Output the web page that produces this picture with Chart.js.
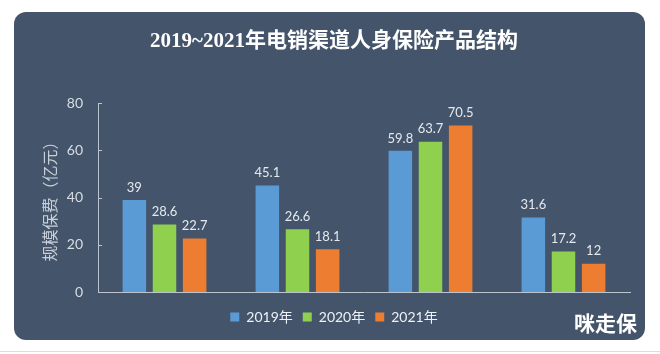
<!DOCTYPE html>
<html>
<head>
<meta charset="utf-8">
<script src="https://cdn.jsdelivr.net/npm/chart.js@4.4.1/dist/chart.umd.min.js"></script>
<style>
  html, body { margin: 0; padding: 0; background: #ffffff; width: 660px; height: 354px; overflow: hidden; }
  #frame { position: absolute; left: 14px; top: 12px; width: 631px; height: 328px; background: #44546a; border-radius: 12px; }
  #wm { position: absolute; left: 574px; top: 307px; font-family: 'Noto Sans CJK SC', sans-serif; font-weight: 700; font-size: 21px; color: #ffffff; }
  #rule { position: absolute; left: 0; top: 351px; width: 660px; height: 1px; background: #dcdcdc; }
</style>
</head>
<body>
<div id="frame"><canvas id="c"></canvas></div>
<div id="wm">咪走保</div>
<div id="rule"></div>
<script>
const categories = ['寿险', '意外险', '健康险', '年金险'];
const seriesNames = ['2019年', '2020年', '2021年'];
const values2019 = [39, 45.1, 59.8, 31.6];
const values2020 = [28.6, 26.6, 63.7, 17.2];
const values2021 = [22.7, 18.1, 70.5, 12];
const yTicks = [0, 20, 40, 60, 80];
const titleText = '2019~2021年电销渠道人身保险产品结构';
const yTitle = '规模保费（亿元）';

const colors = ['#5b9bd5', '#8fd14f', '#ed7d31'];
const axisColor = '#bcc4ce';

const valueLabels = {
  id: 'valueLabels',
  afterDatasetsDraw(chart) {
    const ctx = chart.ctx;
    ctx.save();
    ctx.font = '13px Lato, "Liberation Sans", sans-serif';
    ctx.fillStyle = '#e4e9ef';
    ctx.textAlign = 'center';
    ctx.textBaseline = 'bottom';
    chart.data.datasets.forEach((ds, di) => {
      const meta = chart.getDatasetMeta(di);
      meta.data.forEach((el, i) => {
        ctx.fillText(String(ds.data[i]), el.x, el.y - 6);
      });
    });
    ctx.restore();
  }
};

const innerTicks = {
  id: 'innerTicks',
  afterDraw(chart) {
    const y = chart.scales.y;
    const ctx = chart.ctx;
    ctx.save();
    ctx.strokeStyle = axisColor;
    ctx.lineWidth = 1;
    yTicks.forEach(v => {
      if (v === 0) return;
      const py = Math.round(y.getPixelForValue(v)) + 0.5;
      ctx.beginPath();
      ctx.moveTo(chart.chartArea.left, py);
      ctx.lineTo(chart.chartArea.left + 4, py);
      ctx.stroke();
    });
    ctx.restore();
  }
};

new Chart(document.getElementById('c'), {
  type: 'bar',
  data: {
    labels: categories,
    datasets: [
      { label: seriesNames[0], data: values2019, backgroundColor: colors[0] },
      { label: seriesNames[1], data: values2020, backgroundColor: colors[1] },
      { label: seriesNames[2], data: values2021, backgroundColor: colors[2] }
    ]
  },
  options: {
    responsive: true,
    maintainAspectRatio: false,
    animation: false,
    layout: { padding: { left: 24, right: 15, top: 0, bottom: 6 } },
    datasets: { bar: { categoryPercentage: 0.68, barPercentage: 0.78 } },
    plugins: {
      title: {
        display: true,
        text: titleText,
        color: '#ffffff',
        font: { family: '"Liberation Serif", "Noto Sans CJK SC", serif', size: 21, weight: 'bold' },
        padding: { top: 17, bottom: 49 }
      },
      legend: {
        display: true,
        position: 'bottom',
        labels: {
          boxWidth: 9,
          boxHeight: 9,
          padding: 10,
          color: '#eef1f5',
          font: { family: 'Lato, "Noto Sans CJK SC", sans-serif', size: 14 }
        }
      },
      tooltip: { enabled: false }
    },
    scales: {
      x: {
        grid: { display: false, drawTicks: false },
        border: { display: true, color: axisColor, width: 1 },
        ticks: {
          color: 'rgba(255,255,255,0.09)',
          font: { family: '"Noto Sans CJK SC", sans-serif', size: 12 },
          padding: 14
        },
        afterFit(scale) { scale.height = 8; }
      },
      y: {
        min: 0,
        max: 80,
        grid: { display: false, drawTicks: false },
        border: { display: true, color: axisColor, width: 1 },
        ticks: {
          stepSize: 20,
          color: '#d9dee5',
          padding: 15,
          font: { family: 'Lato, "Liberation Sans", sans-serif', size: 14 }
        },
        title: {
          display: true,
          text: yTitle,
          color: '#c9d0d9',
          font: { family: '"Noto Sans CJK SC", sans-serif', size: 16 },
          padding: { top: 2, bottom: 0 }
        },
        afterFit(scale) { scale.width = 60; }
      }
    }
  },
  plugins: [valueLabels, innerTicks]
});
</script>
</body>
</html>
